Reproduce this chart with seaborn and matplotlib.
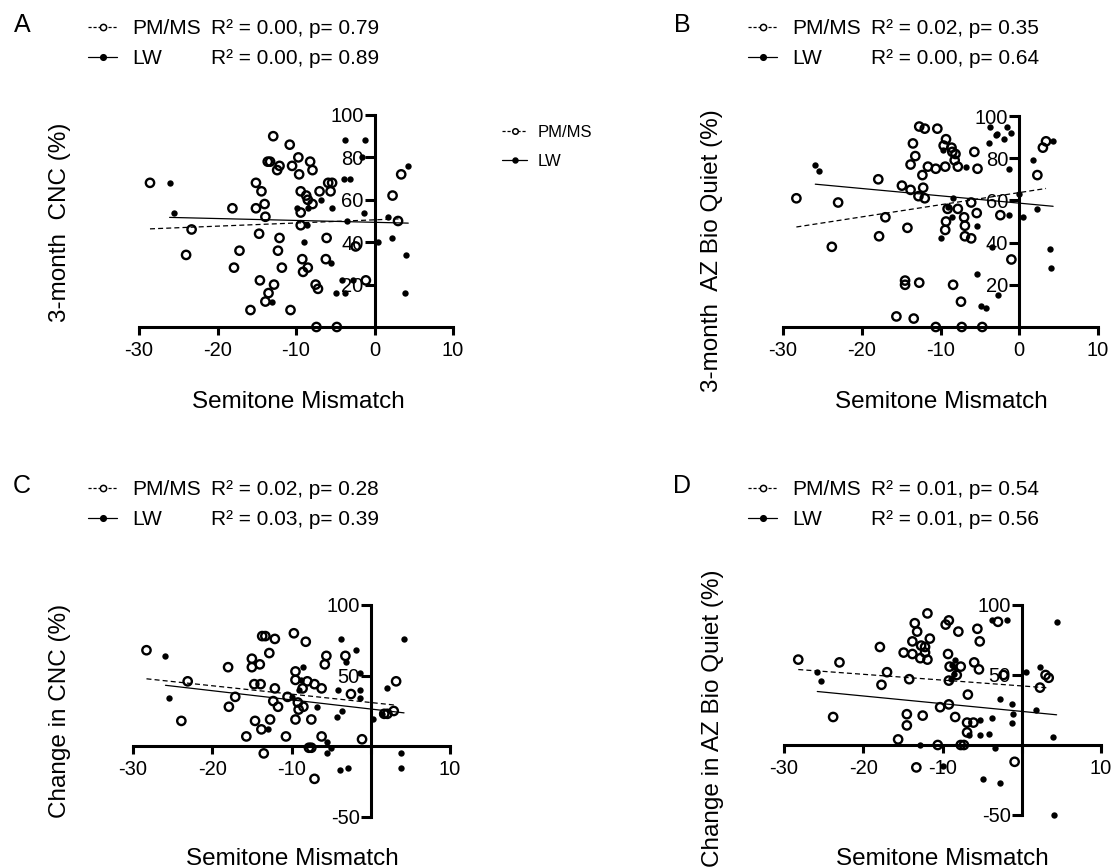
import numpy as np
import matplotlib
matplotlib.use("Agg")
import matplotlib.pyplot as plt
import seaborn as sns
from matplotlib.lines import Line2D

# A: 3-month CNC
a_pm_x = [-28.6, -23.3, -24.0, -18.1, -17.9, -17.2, -15.8, -15.1, -15.1, -14.7,
          -14.6, -14.4, -14.0, -13.9, -13.9, -13.5, -12.8, -13.6, -13.3, -12.9,
          -12.4, -12.1, -12.1, -12.3, -11.8, -10.8, -10.7, -10.5, -9.7, -9.6,
          -9.4, -9.4, -9.4, -9.2, -9.1, -8.7, -8.5, -8.5, -8.2, -7.9,
          -7.9, -7.5, -7.2, -7.4, -7.0, -6.2, -6.1, -5.9, -5.6, -5.4,
          -4.8, -2.4, -1.1, 2.3, 3.0, 3.4]
a_pm_y = [68, 46, 34, 56, 28, 36, 8, 68, 56, 44,
          22, 64, 58, 52, 12, 16, 20, 78, 78, 90,
          74, 76, 42, 36, 28, 86, 8, 76, 80, 72,
          64, 54, 48, 32, 26, 62, 60, 28, 78, 58,
          74, 20, 18, 0, 64, 32, 42, 68, 64, 68,
          0, 38, 22, 62, 50, 72]
a_lw_x = [-26.1, -25.6, -13.1, -9.9, -9.0, -8.6, -8.5, -6.8, -5.5, -5.4,
          -4.9, -4.2, -3.8, -3.8, -3.9, -3.1, -3.5, -2.8, -1.2, -1.6,
          -1.3, 0.4, 1.7, 2.2, 4.0, 3.9, 4.3]
a_lw_y = [68, 54, 12, 56, 40, 48, 56, 60, 30, 56,
          16, 22, 16, 88, 70, 70, 50, 22, 88, 80,
          54, 40, 52, 42, 34, 16, 76]

# B: 3-month AZ Bio Quiet
b_pm_x = [-28.3, -23.0, -23.8, -17.9, -17.8, -17.0, -15.6, -14.9, -14.2, -14.5,
          -14.5, -13.8, -13.8, -13.5, -13.4, -13.2, -12.8, -12.7, -12.7, -12.3,
          -12.2, -12.0, -12.0, -11.6, -10.6, -10.6, -10.4, -9.4, -9.4, -9.3,
          -9.3, -9.6, -9.1, -8.6, -8.5, -8.4, -8.2, -8.1, -7.8, -7.8,
          -7.4, -7.3, -7.0, -6.9, -6.9, -6.1, -6.1, -5.7, -5.4, -5.3,
          -4.7, -2.4, -1.0, 2.3, 3.0, 3.4]
b_pm_y = [61, 59, 38, 70, 43, 52, 5, 67, 47, 22,
          20, 65, 77, 87, 4, 81, 62, 21, 95, 72,
          66, 61, 94, 76, 75, 0, 94, 76, 46, 50,
          89, 86, 56, 85, 83, 20, 79, 82, 76, 56,
          12, 0, 52, 48, 43, 42, 59, 83, 54, 75,
          0, 53, 32, 72, 85, 88]
b_lw_x = [-25.9, -25.4, -9.9, -9.7, -9.1, -8.5, -8.4, -6.7, -5.4, -5.4,
          -4.9, -4.2, -3.9, -3.7, -3.5, -3.0, -2.8, -2.7, -2.0, -1.6,
          -1.3, -1.1, -1.3, 0.0, 0.5, 1.8, 2.2, 3.9, 4.0, 4.3]
b_lw_y = [77, 74, 42, 84, 57, 52, 61, 76, 48, 25,
          10, 9, 87, 95, 38, 91, 91.5, 15, 89, 95,
          75, 92, 53, 63, 52, 79, 56, 37, 28, 88]

# C: change in CNC
c_pm_x = [-28.3, -23.1, -23.9, -18.0, -17.9, -17.1, -15.7, -15.0, -15.0, -14.7,
          -14.6, -14.0, -13.9, -13.8, -13.5, -13.7, -13.3, -12.8, -12.7, -12.3,
          -12.1, -12.1, -11.7, -10.7, -10.5, -9.7, -9.5, -9.5, -9.5, -9.2,
          -9.1, -8.5, -8.6, -8.2, -8.0, -7.8, -7.5, -7.5, -7.1, -7.1,
          -6.2, -6.2, -5.8, -5.6, -3.2, -2.5, -1.1, 1.7, 2.1, 2.9, 3.2]
c_pm_y = [68, 46, 18, 56, 28, 35, 7, 62, 56, 44,
          18, 58, 44, 12, -5, 78, 78, 66, 19, 32,
          76, 41, 28, 7, 35, 80, 53, 47, 19, 31,
          26, 28, 41, 74, 46, -1, -1, 19, -23, 44,
          41, 7, 58, 64, 64, 37, 5, 23, 23, 25, 46]
c_lw_x = [-25.9, -25.5, -13.0, -9.9, -9.0, -8.8, -8.5, -6.8, -5.5, -5.5,
          -5.0, -4.3, -4.1, -3.9, -3.8, -3.6, -3.1, -2.9, -1.8, -1.4,
          -1.4, -1.3, 0.3, 1.4, 2.1, 3.8, 3.8, 4.2]
c_lw_y = [64, 34, 12, 35, 40, 47, 56, 28, 3, -5,
          -1, 21, 40, -17, 76, 25, 60, -15, 68, 52,
          40, 34, 19, 23, 41, -5, -15, 76]

# D: change in AZ Bio Quiet
d_pm_x = [-28.2, -23.0, -23.8, -17.9, -17.7, -17.0, -15.6, -14.9, -14.5, -14.5,
          -14.2, -13.8, -13.8, -13.5, -13.3, -13.2, -12.8, -12.7, -12.5, -12.2,
          -12.2, -11.9, -11.9, -11.6, -10.6, -10.3, -9.6, -9.3, -9.2, -9.2,
          -9.2, -9.1, -8.4, -8.2, -8.0, -7.7, -7.7, -7.3, -6.9, -6.9,
          -6.8, -6.1, -6.0, -5.6, -5.4, -5.3, -3.0, -2.3, -0.9, 2.3, 3.0, 3.4]
d_pm_y = [61, 59, 20, 70, 43, 52, 4, 66, 22, 14,
          47, 65, 74, 87, -16, 81, 62, 71, 21, 66,
          70, 61, 94, 76, 0, 27, 86, 65, 46, 89,
          29, 56, 20, 50, 81, 56, 0, 0, 9, 16,
          36, 16, 59, 83, 54, 74, 88, 50, -12, 41, 50, 48]
d_lw_x = [-25.8, -25.3, -12.9, -10.0, -8.9, -8.6, -8.4, -8.5, -8.8, -6.6,
          -5.3, -5.3, -4.9, -4.1, -3.8, -3.7, -3.4, -2.8, -2.7, -1.9,
          -1.2, -1.1, -1.2, 0.5, 1.8, 2.3, 4.0, 4.1, 4.4]
d_lw_y = [52, 46, 0, -15, 47, 56, 61, 51, 57, 7,
          7, 18, -24, 8, 19, 89, -2, 33, -27, 89,
          29, 22, 16, 52, 25, 56, 6, -50, 88]

# fitted lines (slope, intercept) as drawn in the figure, order A B C D
fit_pm_slope = [0.149, 0.576, -0.593, -0.415]
fit_pm_icpt = [50.55, 63.7, 31.0, 42.2]
fit_lw_slope = [-0.089, -0.347, -0.648, -0.551]
fit_lw_icpt = [49.38, 58.7, 26.4, 24.0]

stats_pm = ["R² = 0.00, p= 0.79", "R² = 0.02, p= 0.35", "R² = 0.02, p= 0.28", "R² = 0.01, p= 0.54"]
stats_lw = ["R² = 0.00, p= 0.89", "R² = 0.00, p= 0.64", "R² = 0.03, p= 0.39", "R² = 0.01, p= 0.56"]
letters = ["A", "B", "C", "D"]
y_labels = ["3-month  CNC (%)", "3-month  AZ Bio Quiet (%)",
            "Change in CNC (%)", "Change in AZ Bio Quiet (%)"]
x_label = "Semitone Mismatch"
x_ticks = [-30, -20, -10, 0, 10]
y_ticks_3m = [20, 40, 60, 80, 100]
y_ticks_chg = [-50, 50, 100]

W, H = 1112, 868

sns.set_style("ticks")
plt.rcParams["font.family"] = ["Liberation Sans", "DejaVu Sans"]
plt.rcParams["axes.unicode_minus"] = False
plt.rcParams["text.color"] = "black"


def fx(x):
    return x / W


def fy(y):
    return 1 - y / H


fig = plt.figure(figsize=(W / 100, H / 100), dpi=100)

# pixel boxes: left, top, right, bottom
boxes = [(139, 115, 453, 327), (783, 116, 1098, 327),
         (133, 605, 450, 817), (784, 605, 1101, 815)]
panels = [(a_pm_x, a_pm_y, a_lw_x, a_lw_y, (0, 100), y_ticks_3m),
          (b_pm_x, b_pm_y, b_lw_x, b_lw_y, (0, 100), y_ticks_3m),
          (c_pm_x, c_pm_y, c_lw_x, c_lw_y, (-50, 100), y_ticks_chg),
          (d_pm_x, d_pm_y, d_lw_x, d_lw_y, (-50, 100), y_ticks_chg)]
ylab_pos = [(60, 222), (712, 251), (60, 711), (713, 718)]
xlab_pos = [(298, 408), (941, 408), (292, 865), (942, 865)]

for i, (pm_x, pm_y, lw_x, lw_y, ylim, yticks) in enumerate(panels):
    l, t, r, b = boxes[i]
    ax = fig.add_axes([fx(l), fy(b), (r - l) / W, (b - t) / H])
    ax.patch.set_alpha(0)

    sns.scatterplot(x=pm_x, y=pm_y, ax=ax, s=36, facecolor="none", edgecolor="black",
                    linewidth=1.7, clip_on=False, zorder=4)
    sns.scatterplot(x=lw_x, y=lw_y, ax=ax, s=21, color="black", edgecolor="black",
                    linewidth=0, clip_on=False, zorder=4)

    xr = np.array([min(pm_x), max(pm_x)])
    sns.lineplot(x=xr, y=fit_pm_icpt[i] + fit_pm_slope[i] * xr, ax=ax, color="black",
                 linewidth=0.9, linestyle=(0, (4, 2.5)), errorbar=None, zorder=3)
    xr = np.array([min(lw_x), max(lw_x)])
    sns.lineplot(x=xr, y=fit_lw_icpt[i] + fit_lw_slope[i] * xr, ax=ax, color="black",
                 linewidth=0.9, errorbar=None, zorder=3)

    ax.set_xlim(-30, 10)
    ax.set_ylim(*ylim)
    ax.set_xticks(x_ticks)
    ax.set_yticks(yticks)
    if ylim[0] < 0:
        ax.set_xticklabels(["-30", "-20", "-10", "", "10"])
    ax.spines["left"].set_position(("data", 0))
    ax.spines["bottom"].set_position(("data", 0))
    ax.spines[["top", "right"]].set_visible(False)
    for s in ["left", "bottom"]:
        ax.spines[s].set_linewidth(2.2)
        ax.spines[s].set_color("black")
    ax.tick_params(axis="x", width=2.2, length=6, pad=4, labelsize=14.5, colors="black")
    ax.tick_params(axis="y", width=2.2, length=7, pad=1, labelsize=14.5, colors="black")
    ax.set_xlabel("")
    ax.set_ylabel("")

    cx, cy = ylab_pos[i]
    fig.text(fx(cx), fy(cy), y_labels[i], rotation=90, ha="center", va="center", fontsize=17.5)
    cx, cy = xlab_pos[i]
    fig.text(fx(cx), fy(cy), x_label, ha="center", va="baseline", fontsize=17.5)


def handle(x0, x1, y, pm, ms):
    ls = (0, (2.5, 1.5)) if pm else "-"
    fig.add_artist(Line2D([fx(x0), fx(x1)], [fy(y), fy(y)], color="black", lw=0.9, ls=ls))
    fig.add_artist(Line2D([fx((x0 + x1) / 2)], [fy(y)], marker="o", ms=ms,
                          mfc="white" if pm else "black", mec="black", mew=1.1, ls="none"))


# legends above each panel
leg_origin = [(0, 34), (660, 34), (0, 495), (660, 495)]
for i, (ox, oy) in enumerate(leg_origin):
    fig.text(fx(ox + 22), fy(oy - 2), letters[i], ha="center", va="baseline", fontsize=18)
    for row, (lab, st, pm) in enumerate([("PM/MS", stats_pm[i], True), ("LW", stats_lw[i], False)]):
        base = oy + 30 * row
        handle(ox + 88, ox + 117, base - 7, pm, 4.5 if pm else 4)
        fig.text(fx(ox + 132), fy(base), lab, ha="left", va="baseline", fontsize=15)
        fig.text(fx(ox + 211), fy(base), st, ha="left", va="baseline", fontsize=15)

# small series legend beside panel A
for lab, base, pm in [("PM/MS", 137, True), ("LW", 166, False)]:
    handle(502, 527, base - 6, pm, 4 if pm else 3.5)
    fig.text(fx(538), fy(base), lab, ha="left", va="baseline", fontsize=12)

fig.savefig("out.png", dpi=100)
